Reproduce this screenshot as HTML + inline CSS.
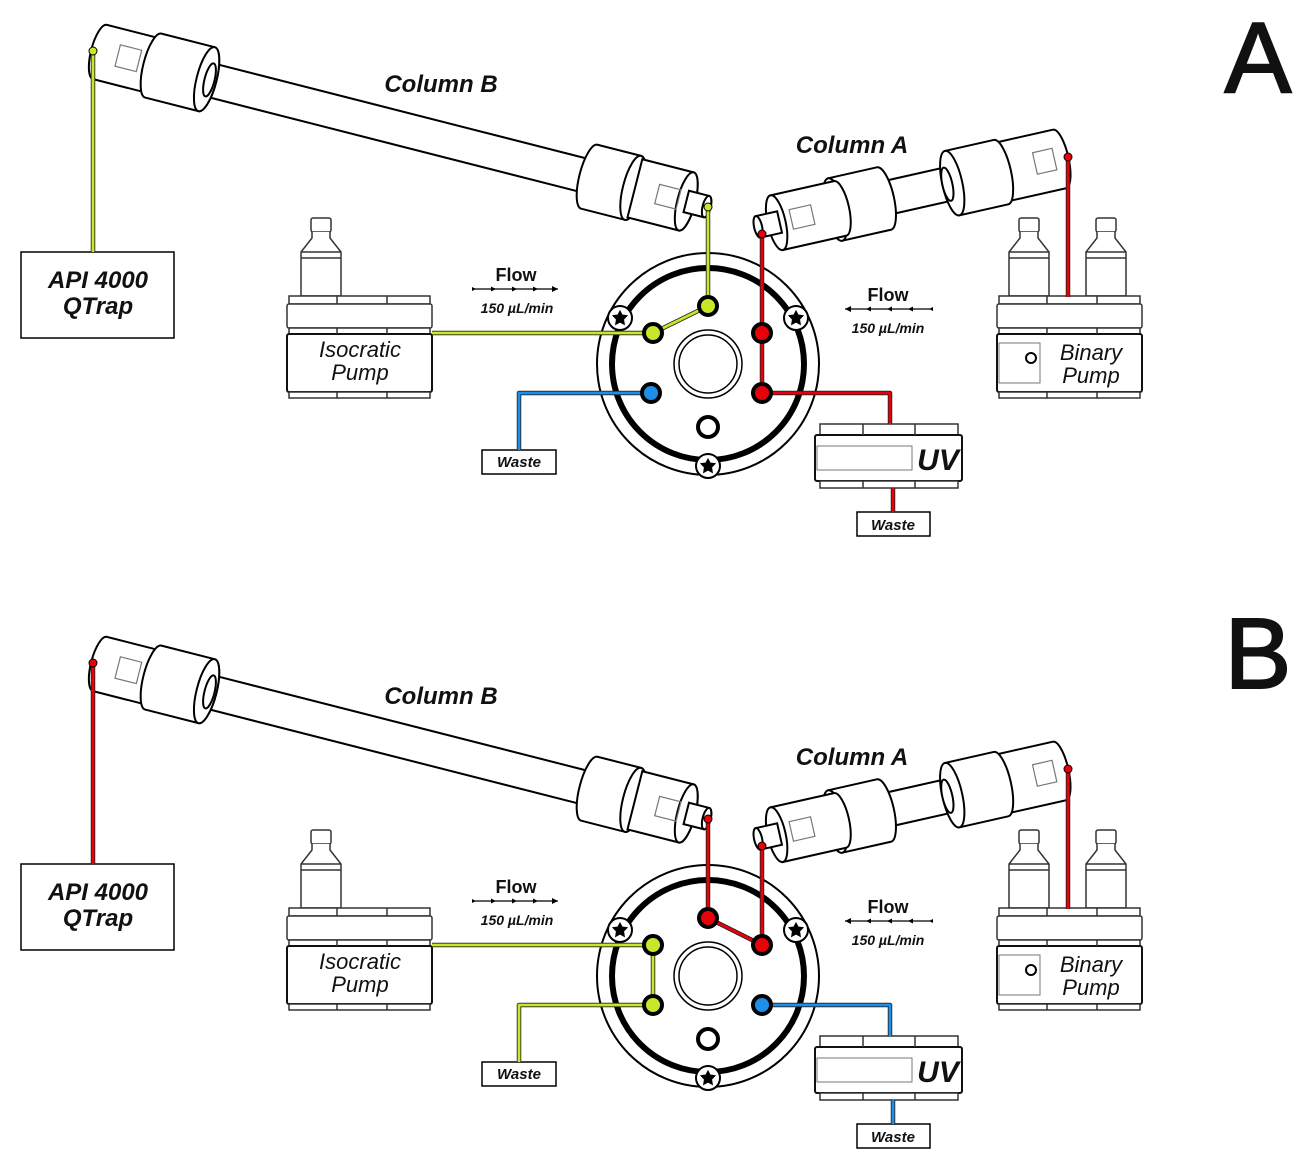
<!DOCTYPE html>
<html><head><meta charset="utf-8"><style>
html,body{margin:0;padding:0;background:#fff;}
svg{display:block;}
text{font-family:"Liberation Sans",Arial,sans-serif;font-weight:bold;font-style:italic;fill:#111;}
</style></head><body>
<svg width="1300" height="1167" viewBox="0 0 1300 1167" xmlns="http://www.w3.org/2000/svg">
<defs>
<g id="star"><circle r="12" fill="#fff" stroke="#000" stroke-width="2"/><path d="M0,-6 L1.8,-2.5 6,-2 3,1.2 3.7,5.5 0,3.5 -3.7,5.5 -3,1.2 -6,-2 -1.8,-2.5Z" fill="#000"/></g>
<g id="bottle" fill="#fff" stroke="#333" stroke-width="1.5">
<rect x="-10" y="0" width="20" height="14" rx="2"/>
<path d="M-9,14 L-9,20 L-20,34 L-20,78 L20,78 L20,34 L9,20 L9,14"/>
<line x1="-20" y1="34" x2="20" y2="34"/><line x1="-20" y1="40" x2="20" y2="40"/>
</g>
<g id="pumpbody" fill="#fff" stroke="#333" stroke-width="1.5">
<rect x="2" y="0" width="141" height="8"/>
<rect x="0" y="8" width="145" height="24" rx="2"/>
<rect x="2" y="32" width="141" height="6"/>
<rect x="0" y="38" width="145" height="58" rx="2" stroke="#111" stroke-width="2"/>
<rect x="2" y="96" width="141" height="6"/>
<line x1="50" y1="0" x2="50" y2="8"/><line x1="100" y1="0" x2="100" y2="8"/>
<line x1="50" y1="32" x2="50" y2="38"/><line x1="100" y1="32" x2="100" y2="38"/>
<line x1="50" y1="96" x2="50" y2="102"/><line x1="100" y1="96" x2="100" y2="102"/>
</g>
<g id="common" fill="#fff" stroke="#000" stroke-width="2">
<g transform="translate(100,52) rotate(14.3)">
<path d="M110,-17 L510,-17 A5,17 0 0 1 510,17 L110,17 Z"/>
<path d="M0,-28 L60,-28 A9,28 0 0 1 60,28 L0,28 A9,28 0 0 1 0,-28Z"/>
<rect x="18" y="-12" width="22" height="22" fill="none" stroke="#777" stroke-width="1.2"/>
<path d="M55,-33 L110,-33 A10,33 0 0 1 110,33 L55,33 A10,33 0 0 1 55,-33Z"/>
<ellipse cx="110" cy="0" rx="10" ry="33"/><ellipse cx="113" cy="0" rx="5" ry="17"/>
<path d="M505,-33 L550,-33 A10,33 0 0 1 550,33 L505,33 A10,33 0 0 1 505,-33Z"/>
<ellipse cx="550" cy="0" rx="10" ry="33"/>
<path d="M552,-30 L605,-30 A9,30 0 0 1 605,30 L552,30 Z"/>
<ellipse cx="605" cy="0" rx="9" ry="30"/>
<rect x="575" y="-10" width="22" height="20" fill="none" stroke="#777" stroke-width="1.2"/>
<path d="M605,-11 L626,-11 A4,11 0 0 1 626,11 L605,11Z"/><ellipse cx="626" cy="0" rx="4" ry="11"/>
</g>
<g transform="translate(762,226) rotate(-12.7)">
<path d="M120,-17 L200,-17 L200,17 L120,17Z"/>
<path d="M240,-30 L305,-30 A9,30 0 0 1 305,30 L240,30 Z"/>
<rect x="280" y="-12" width="20" height="22" fill="none" stroke="#777" stroke-width="1.2"/>
<path d="M195,-33 L245,-33 A10,33 0 0 1 245,33 L195,33Z"/><ellipse cx="195" cy="0" rx="10" ry="33"/>
<ellipse cx="190" cy="0" rx="5" ry="17"/>
<path d="M75,-32 L125,-32 A10,32 0 0 1 125,32 L75,32Z"/><ellipse cx="75" cy="0" rx="10" ry="32"/>
<path d="M15,-28 L80,-28 A9,28 0 0 1 80,28 L15,28Z"/><ellipse cx="15" cy="0" rx="9" ry="28"/>
<rect x="30" y="-10" width="22" height="20" fill="none" stroke="#777" stroke-width="1.2"/>
<path d="M-4,-11 L18,-11 L18,11 L-4,11Z"/><ellipse cx="-4" cy="0" rx="4" ry="11"/>
</g>
<circle cx="708" cy="364" r="111"/>
<circle cx="708" cy="364" r="96" stroke-width="6" fill="none"/>
<circle cx="708" cy="364" r="34" stroke-width="1.5"/><circle cx="708" cy="364" r="29" stroke-width="1.5"/>
<circle cx="708" cy="427" r="10" stroke-width="4"/>
<use href="#star" x="620" y="318"/><use href="#star" x="796" y="318"/><use href="#star" x="708" y="466"/>
<rect x="21" y="252" width="153" height="86" stroke-width="1.5"/>
<use href="#bottle" x="321" y="218"/>
<use href="#pumpbody" x="287" y="296"/>
<use href="#bottle" x="1029" y="218"/><use href="#bottle" x="1106" y="218"/>
<use href="#pumpbody" x="997" y="296"/>
<rect x="999" y="343" width="41" height="40" stroke="#777" stroke-width="1"/>
<circle cx="1031" cy="358" r="5" stroke-width="2"/>
<g stroke="#333" stroke-width="1.5">
<rect x="820" y="424" width="138" height="11"/>
<rect x="815" y="435" width="147" height="46" rx="2" stroke="#111" stroke-width="2"/>
<rect x="817" y="446" width="95" height="24" stroke="#777" stroke-width="1"/>
<rect x="820" y="481" width="138" height="7"/>
<line x1="863" y1="424" x2="863" y2="435"/><line x1="915" y1="424" x2="915" y2="435"/>
<line x1="863" y1="481" x2="863" y2="488"/><line x1="915" y1="481" x2="915" y2="488"/>
</g>
<rect x="482" y="450" width="74" height="24" stroke-width="1.5"/>
<rect x="857" y="512" width="73" height="24" stroke-width="1.5"/>
<g stroke-width="1.2"><line x1="474" y1="289" x2="558" y2="289"/><line x1="845" y1="309" x2="930" y2="309"/></g>
<g fill="#000" stroke="none">
<path d="M558,289 l-6,-3 v6z M538,289 l-5,-2.5 v5z M517,289 l-5,-2.5 v5z M496,289 l-5,-2.5 v5z M476,289 l-4,-2 v4z"/>
<path d="M845,309 l6,-3 v6z M866,309 l5,-2.5 v5z M887,309 l5,-2.5 v5z M908,309 l5,-2.5 v5z M929,309 l4,-2 v4z"/>
</g>
</g>
</defs>

<use href="#common"/>
<use href="#common" y="612"/>

<g fill="none" stroke-width="4.5" stroke-linejoin="round">
<g stroke="#222"><path d="M93,252 V50 M708,206 V306 L653,333 H432 M651,393 H519 V450 M762,234 V393 H890 V424 M893,488 V512 M1068,157 V297"/></g>
<g stroke-width="2.8"><path stroke="#c8e62a" d="M93,252 V50 M708,206 V306 L653,333 H432"/><path stroke="#1e8fe8" d="M651,393 H519 V450"/><path stroke="#e8000b" d="M762,234 V393 H890 V424 M893,488 V512 M1068,157 V297"/></g>
</g>
<g stroke="#000" stroke-width="4">
<circle cx="93" cy="51" r="4" fill="#c8e62a" stroke-width="1"/><circle cx="708" cy="207" r="4" fill="#c8e62a" stroke-width="1"/>
<circle cx="762" cy="234" r="4" fill="#e8000b" stroke-width="1"/><circle cx="1068" cy="157" r="4" fill="#e8000b" stroke-width="1"/>
<circle cx="708" cy="306" r="9" fill="#c8e62a"/><circle cx="653" cy="333" r="9" fill="#c8e62a"/>
<circle cx="651" cy="393" r="9" fill="#1e8fe8"/><circle cx="762" cy="333" r="9" fill="#e8000b"/><circle cx="762" cy="393" r="9" fill="#e8000b"/>
</g>

<g fill="none" stroke-width="4.5" stroke-linejoin="round">
<g stroke="#222"><path d="M93,864 V662 M708,819 V918 L762,945 V846 M653,945 H432 M653,945 V1005 H519 V1062 M762,1005 H890 V1036 M893,1100 V1124 M1068,769 V909"/></g>
<g stroke-width="2.8"><path stroke="#e8000b" d="M93,864 V662 M708,819 V918 L762,945 V846 M1068,769 V909"/><path stroke="#c8e62a" d="M653,945 H432 M653,945 V1005 H519 V1062"/><path stroke="#1e8fe8" d="M762,1005 H890 V1036 M893,1100 V1124"/></g>
</g>
<g stroke="#000" stroke-width="4">
<circle cx="93" cy="663" r="4" fill="#e8000b" stroke-width="1"/><circle cx="708" cy="819" r="4" fill="#e8000b" stroke-width="1"/>
<circle cx="762" cy="846" r="4" fill="#e8000b" stroke-width="1"/><circle cx="1068" cy="769" r="4" fill="#e8000b" stroke-width="1"/>
<circle cx="708" cy="918" r="9" fill="#e8000b"/><circle cx="762" cy="945" r="9" fill="#e8000b"/>
<circle cx="653" cy="945" r="9" fill="#c8e62a"/><circle cx="653" cy="1005" r="9" fill="#c8e62a"/><circle cx="762" cy="1005" r="9" fill="#1e8fe8"/>
</g>

<g text-anchor="middle">
<text x="1258" y="92" font-size="100" style="font-style:normal;font-weight:normal" stroke="#111" stroke-width="2">A</text>
<text x="441" y="92" font-size="24">Column B</text>
<text x="852" y="153" font-size="24">Column A</text>
<text x="98" y="288" font-size="24">API 4000</text>
<text x="98" y="314" font-size="24">QTrap</text>
<text x="360" y="357" font-size="22" style="font-weight:normal">Isocratic</text>
<text x="360" y="380" font-size="22" style="font-weight:normal">Pump</text>
<text x="1091" y="360" font-size="22" style="font-weight:normal">Binary</text>
<text x="1091" y="383" font-size="22" style="font-weight:normal">Pump</text>
<text x="516" y="281" font-size="18" style="font-style:normal">Flow</text>
<text x="517" y="313" font-size="14">150 µL/min</text>
<text x="888" y="301" font-size="18" style="font-style:normal">Flow</text>
<text x="888" y="333" font-size="14">150 µL/min</text>
<text x="938" y="470" font-size="30">UV</text>
<text x="519" y="467" font-size="15">Waste</text>
<text x="893" y="530" font-size="15">Waste</text>
</g>
<g text-anchor="middle">
<text x="1258" y="688" font-size="100" style="font-style:normal;font-weight:normal" stroke="#111" stroke-width="2">B</text>
<text x="441" y="704" font-size="24">Column B</text>
<text x="852" y="765" font-size="24">Column A</text>
<text x="98" y="900" font-size="24">API 4000</text>
<text x="98" y="926" font-size="24">QTrap</text>
<text x="360" y="969" font-size="22" style="font-weight:normal">Isocratic</text>
<text x="360" y="992" font-size="22" style="font-weight:normal">Pump</text>
<text x="1091" y="972" font-size="22" style="font-weight:normal">Binary</text>
<text x="1091" y="995" font-size="22" style="font-weight:normal">Pump</text>
<text x="516" y="893" font-size="18" style="font-style:normal">Flow</text>
<text x="517" y="925" font-size="14">150 µL/min</text>
<text x="888" y="913" font-size="18" style="font-style:normal">Flow</text>
<text x="888" y="945" font-size="14">150 µL/min</text>
<text x="938" y="1082" font-size="30">UV</text>
<text x="519" y="1079" font-size="15">Waste</text>
<text x="893" y="1142" font-size="15">Waste</text>
</g>
</svg>
</body></html>
